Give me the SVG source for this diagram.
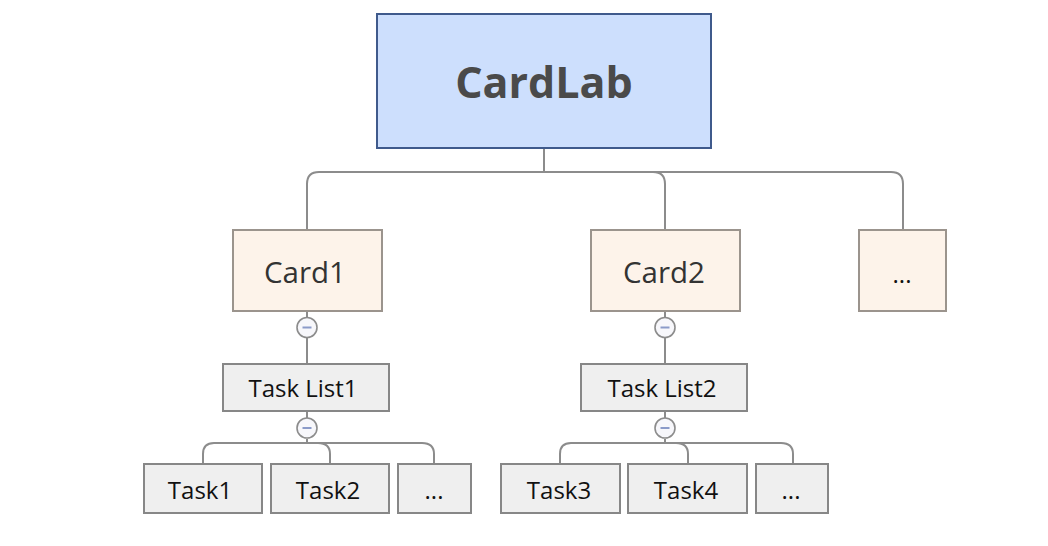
<svg xmlns="http://www.w3.org/2000/svg" width="1048" height="546" viewBox="0 0 1048 546">
<style>
.root{fill:#cddffd;stroke:#3f5a8c;stroke-width:2}
.card{fill:#fdf3ea;stroke:#9b948d;stroke-width:2}
.task{fill:#efefef;stroke:#878787;stroke-width:2}
.conn{fill:none;stroke:#8c8c8c;stroke-width:2}
.tog{fill:#f7f7fb;stroke:#8c8c8c;stroke-width:1.6}
.minus{stroke:#8b9bc9;stroke-width:2}
text{font-family:"Open Sans","Noto Sans",sans-serif;text-anchor:middle}
.t0{font-size:43px;font-weight:bold;fill:#4a4a4a}
.t1{font-size:29.5px;fill:#333}
.t2{font-size:24px;fill:#111}
</style>
<rect width="1048" height="546" fill="#fff"/>
<g id="connectors">
<path class="conn" d="M544 148V172M319 172H891M307 229V184Q307 172 319 172M653 172Q665 172 665 184V229M891 172Q903 172 903 184V229"/>
<path class="conn" d="M307 311V317M307 338V364M665 311V317M665 338V364"/>
<path class="conn" d="M307 411V418M307 439V443M214 443H422M203 464V454Q203 443 214 443M318 443Q330 443 330 454V464M422 443Q434 443 434 454V464"/>
<path class="conn" d="M665 412V418M665 439V443M571 443H781M560 464V454Q560 443 571 443M676 443Q688 443 688 454V464M781 443Q793 443 793 454V464"/>
<g id="toggles">
<circle class="tog" cx="307" cy="327.5" r="10"/><line class="minus" x1="302.5" y1="327.5" x2="311.5" y2="327.5"/>
<circle class="tog" cx="665" cy="327.5" r="10"/><line class="minus" x1="660.5" y1="327.5" x2="669.5" y2="327.5"/>
<circle class="tog" cx="307" cy="428" r="10"/><line class="minus" x1="302.5" y1="428" x2="311.5" y2="428"/>
<circle class="tog" cx="665" cy="428" r="10"/><line class="minus" x1="660.5" y1="428" x2="669.5" y2="428"/>
</g>
</g>
<g id="cardlab"><rect class="root" x="377" y="14" width="334" height="134"/><text class="t0" x="544" y="98">CardLab</text></g>
<g id="card1"><rect class="card" x="233" y="230" width="149" height="81"/><text class="t1" x="305" y="283">Card1</text></g>
<g id="card2"><rect class="card" x="591" y="230" width="149" height="81"/><text class="t1" x="664" y="283">Card2</text></g>
<g id="card3"><rect class="card" x="859" y="230" width="87" height="81"/><text class="t2" x="902" y="283">...</text></g>
<g id="tasklist1"><rect class="task" x="223" y="364" width="166" height="47"/><text class="t2" x="303" y="397">Task List1</text></g>
<g id="tasklist2"><rect class="task" x="581" y="364" width="166" height="47"/><text class="t2" x="662" y="397">Task List2</text></g>
<g id="task1"><rect class="task" x="144" y="464" width="118" height="49"/><text class="t2" x="200" y="499">Task1</text></g>
<g id="task2"><rect class="task" x="271" y="464" width="118" height="49"/><text class="t2" x="328" y="499">Task2</text></g>
<g id="task1more"><rect class="task" x="398" y="464" width="73" height="49"/><text class="t2" x="434" y="499">...</text></g>
<g id="task3"><rect class="task" x="501" y="464" width="119" height="49"/><text class="t2" x="559" y="499">Task3</text></g>
<g id="task4"><rect class="task" x="628" y="464" width="119" height="49"/><text class="t2" x="686" y="499">Task4</text></g>
<g id="task2more"><rect class="task" x="756" y="464" width="72" height="49"/><text class="t2" x="791" y="499">...</text></g>
</svg>
